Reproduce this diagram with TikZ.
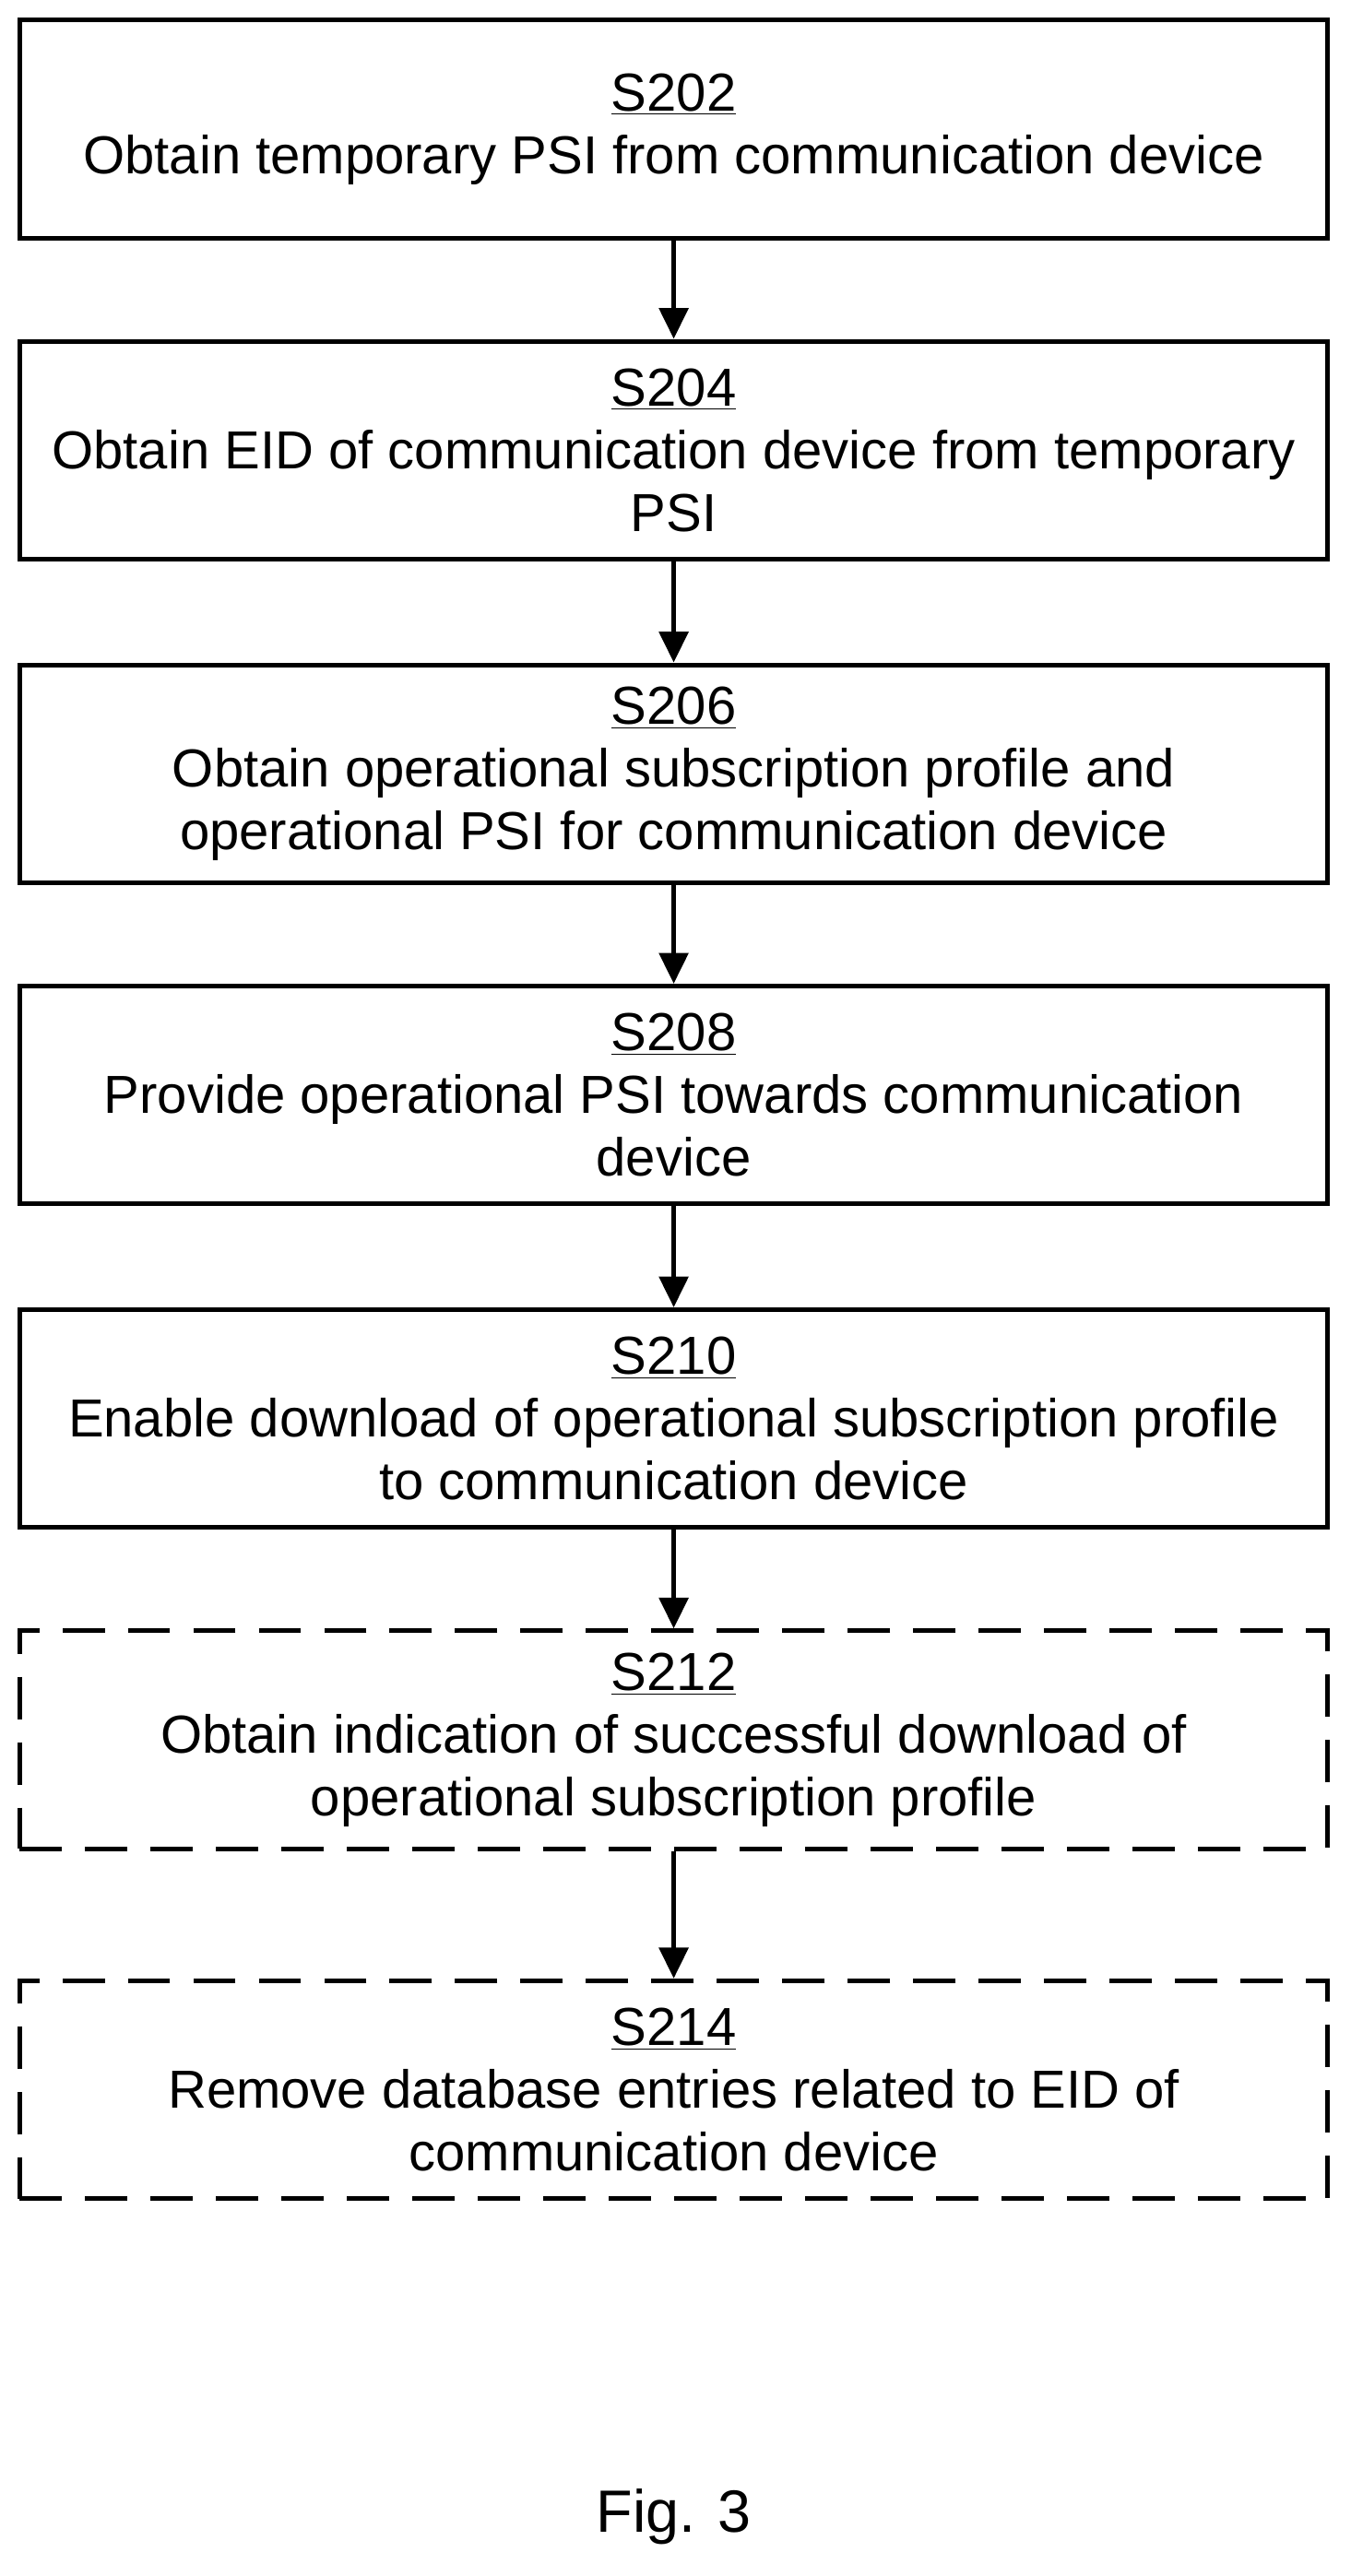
\documentclass[tikz,border=0pt]{standalone}
\usepackage{fontspec}
\setmainfont{Liberation Sans}
\usetikzlibrary{arrows.meta, positioning}

\begin{document}
\begin{tikzpicture}[
    x=0.03cm, y=0.03cm,
    stepbox/.style={rectangle, draw=black, line width=2.4pt, minimum width=23.88cm,
                minimum height=3.98cm, align=center,
                font=\fontsize{27.8}{32.5}\selectfont},
    optbox/.style={stepbox, dash pattern=on 22pt off 12pt},
    arrow/.style={-{Triangle[length=16pt,width=15pt]}, line width=2.4pt}
]
\useasboundingbox (0,0) rectangle (822,-1568);

% Steps
\node[stepbox] (s202) at (410,-78.5) {\underline{S202}\\Obtain temporary PSI from communication device};
\node[stepbox] (s204) at (410,-274) {\underline{S204}\\Obtain EID of communication device from temporary\\PSI};
\node[stepbox] (s206) at (410,-471) {\underline{S206}\\Obtain operational subscription profile and\\operational PSI for communication device};
\node[stepbox] (s208) at (410,-666.5) {\underline{S208}\\Provide operational PSI towards communication\\device};
\node[stepbox] (s210) at (410,-863.5) {\underline{S210}\\Enable download of operational subscription profile\\to communication device};
\node[optbox] (s212) at (410,-1059) {\underline{S212}\\Obtain indication of successful download of\\operational subscription profile};
\node[optbox] (s214) at (410,-1272) {\underline{S214}\\Remove database entries related to EID of\\communication device};

% Arrows
\draw[arrow] (s202) -- (s204);
\draw[arrow] (s204) -- (s206);
\draw[arrow] (s206) -- (s208);
\draw[arrow] (s208) -- (s210);
\draw[arrow] (s210) -- (s212);
\draw[arrow] (s212) -- (s214);

% Caption
\node[font=\fontsize{31}{36}\selectfont] (fig) at (410,-1532) {Fig. 3};

\end{tikzpicture}
\end{document}
